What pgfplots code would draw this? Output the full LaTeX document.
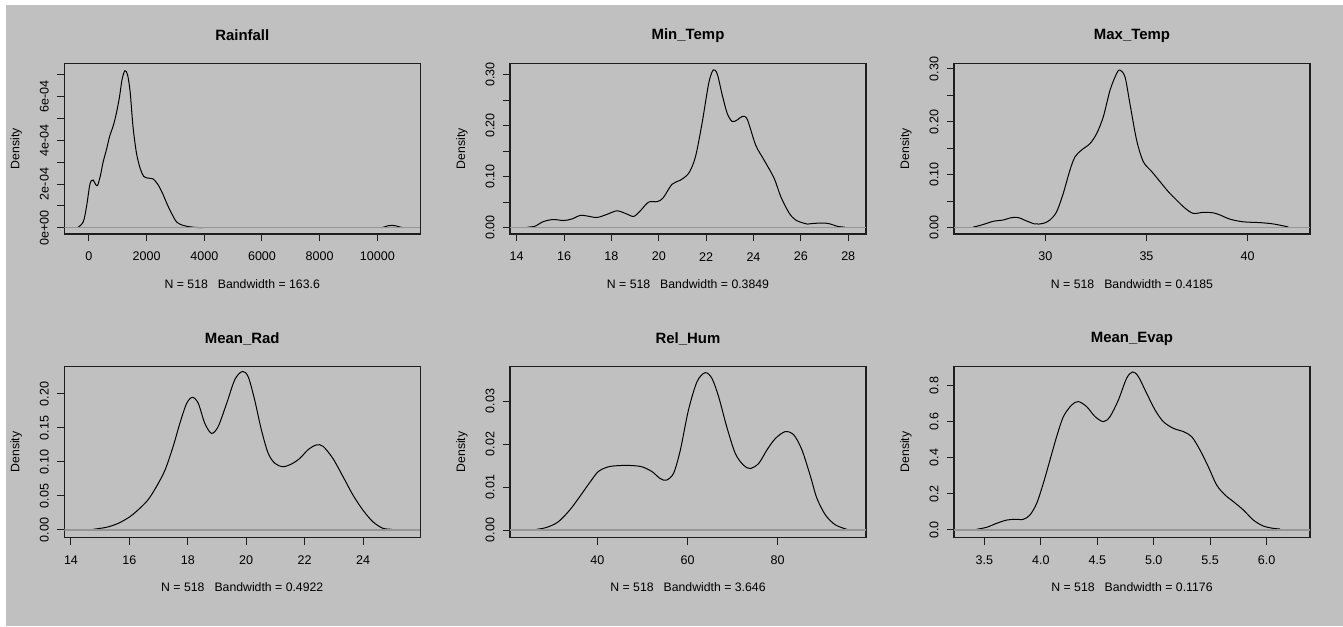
\documentclass[border=0pt]{standalone}
\usepackage{fontspec}
\setmainfont{Liberation Sans}
\usepackage{pgfplots}
\pgfplotsset{compat=1.18}
\definecolor{bg}{RGB}{192,192,192}
\definecolor{zl}{RGB}{150,150,150}
\definecolor{fr}{RGB}{30,30,30}
\pgfplotsset{
  rplot/.style={
    width=267pt, height=128pt, scale only axis,
    anchor=south west,
    axis line style={fr, line width=0.8pt},
    tick pos=left, tick align=outside, major tick length=5.5pt,
    every tick/.style={fr, line width=0.75pt},
    /pgf/number format/assume math mode=true,
    tick label style={font=\fontsize{9.4}{10}\selectfont, text=black},
    xticklabel style={anchor=center},
    xticklabel shift=11.5pt,
    yticklabel style={rotate=90, anchor=center},
    yticklabel shift=9.5pt,
    every axis title/.style={at={(axis description cs:0.5,1.163)}, anchor=center, font=\bfseries\fontsize{11.2}{12}\selectfont},
    every axis x label/.style={at={(axis description cs:0.5,-0.294)}, anchor=center, font=\fontsize{9.2}{10}\selectfont},
    every axis y label/.style={at={(axis description cs:-0.135,0.5)}, anchor=center, rotate=90, font=\fontsize{9.2}{10}\selectfont},
    ylabel={Density},
    scaled ticks=false,
  },
  dens/.style={black, line width=0.75pt, smooth, tension=0.5, no markers},
  zero/.style={zl, line width=0.9pt, no markers},
}
\begin{document}
\begin{tikzpicture}
\fill[white] (0,0) rectangle (1007.25pt,469.5pt);
\fill[bg] (4.5pt,0) rectangle (1007.25pt,465.75pt);

% Rainfall
\begin{axis}[rplot, at={(48.2pt,294pt)},
  title={Rainfall},
  xlabel={N = 518\hspace{7.5pt}Bandwidth = 163.6},
  xmin=-856, xmax=11489, ymin=-2.9e-5, ymax=7.53e-4,
  xtick={0,2000,4000,6000,8000,10000},
  xticklabels={0,2000,4000,6000,8000,10000},
  ytick={0,1e-4,2e-4,3e-4,4e-4,5e-4,6e-4,7e-4},
  yticklabels={0e+00,,2e-04,,4e-04,,6e-04,}]
\addplot[dens] coordinates {(-393,0) (-196,2.7e-5) (-80,1.0e-4) (20,1.9e-4) (80,2.15e-4) (150,2.18e-4) (230,1.98e-4) (300,1.94e-4) (400,2.4e-4) (490,3.0e-4) (612,3.6e-4) (720,4.2e-4) (850,4.7e-4) (960,5.3e-4) (1060,6.0e-4) (1150,6.8e-4) (1247,7.19e-4) (1340,7.0e-4) (1430,6.2e-4) (1530,4.6e-4) (1650,3.4e-4) (1780,2.7e-4) (1900,2.35e-4) (2050,2.27e-4) (2229,2.23e-4) (2400,1.96e-4) (2560,1.55e-4) (2720,1.05e-4) (2864,6.6e-5) (3040,2.6e-5) (3250,1.1e-5) (3500,4e-6) (3730,1e-6) (3950,0)};
\addplot[dens] coordinates {(10150,0) (10260,4e-6) (10380,9e-6) (10520,1.05e-5) (10660,8e-6) (10780,3e-6) (10900,0)};
\addplot[zero] coordinates {(-856,0) (11489,0)};
\end{axis}

% Min_Temp
\begin{axis}[rplot, at={(382.5pt,294pt)},
  title={Min\_Temp},
  xlabel={N = 518\hspace{7.5pt}Bandwidth = 0.3849},
  xmin=13.72, xmax=28.75, ymin=-0.0124, ymax=0.322,
  xtick={14,16,18,20,22,24,26,28},
  xticklabels={14,16,18,20,22,24,26,28},
  ytick={0,0.05,0.10,0.15,0.20,0.25,0.30},
  yticklabels={0.00,,0.10,,0.20,,0.30}]
\addplot[dens] coordinates {(14.47,0.001) (14.78,0.003) (15.13,0.012) (15.55,0.016) (15.98,0.014) (16.33,0.017) (16.68,0.024) (16.96,0.023) (17.39,0.020) (17.81,0.026) (18.23,0.033) (18.59,0.028) (18.94,0.022) (19.22,0.033) (19.57,0.050) (19.93,0.051) (20.18,0.058) (20.56,0.085) (20.91,0.093) (21.27,0.107) (21.55,0.139) (21.83,0.205) (22.11,0.283) (22.30,0.309) (22.47,0.301) (22.68,0.260) (22.89,0.224) (23.10,0.208) (23.31,0.211) (23.53,0.218) (23.74,0.212) (24.09,0.162) (24.44,0.133) (24.87,0.097) (25.15,0.061) (25.50,0.029) (25.78,0.015) (26.14,0.0085) (26.28,0.007) (26.56,0.0085) (27.12,0.0085) (27.55,0.0026) (27.86,0.001)};
\addplot[zero] coordinates {(13.72,0) (28.75,0)};
\end{axis}

% Max_Temp
\begin{axis}[rplot, at={(715.5pt,294pt)},
  title={Max\_Temp},
  xlabel={N = 518\hspace{7.5pt}Bandwidth = 0.4185},
  xmin=25.49, xmax=43.08, ymin=-0.012, ymax=0.3107,
  xtick={30,35,40},
  xticklabels={30,35,40},
  ytick={0,0.05,0.10,0.15,0.20,0.25,0.30},
  yticklabels={0.00,,0.10,,0.20,,0.30}]
\addplot[dens] coordinates {(26.44,0.001) (26.85,0.005) (27.43,0.012) (27.92,0.0145) (28.34,0.019) (28.67,0.019) (29.08,0.0126) (29.49,0.007) (29.90,0.008) (30.23,0.0145) (30.56,0.030) (30.89,0.065) (31.22,0.109) (31.47,0.134) (31.80,0.147) (32.21,0.159) (32.54,0.178) (32.87,0.210) (33.20,0.260) (33.53,0.292) (33.69,0.298) (33.94,0.285) (34.18,0.235) (34.51,0.166) (34.84,0.125) (35.26,0.106) (35.67,0.087) (36.08,0.068) (36.49,0.052) (36.90,0.037) (37.31,0.027) (37.81,0.029) (38.30,0.028) (38.63,0.024) (39.13,0.016) (39.79,0.011) (40.61,0.0095) (41.27,0.007) (42.01,0.0013)};
\addplot[zero] coordinates {(25.49,0) (43.08,0)};
\end{axis}

% Mean_Rad
\begin{axis}[rplot, at={(48.2pt,66.5pt)},
  title={Mean\_Rad},
  xlabel={N = 518\hspace{7.5pt}Bandwidth = 0.4922},
  xmin=13.77, xmax=25.96, ymin=-0.0108, ymax=0.240,
  xtick={14,16,18,20,22,24},
  xticklabels={14,16,18,20,22,24},
  ytick={0,0.05,0.10,0.15,0.20},
  yticklabels={0.00,0.05,0.10,0.15,0.20}]
\addplot[dens] coordinates {(14.76,0.001) (15.22,0.004) (15.62,0.0098) (16.02,0.0196) (16.36,0.032) (16.65,0.045) (16.93,0.064) (17.22,0.088) (17.50,0.123) (17.73,0.157) (17.96,0.186) (18.16,0.195) (18.36,0.186) (18.58,0.157) (18.81,0.142) (19.04,0.152) (19.33,0.186) (19.61,0.221) (19.87,0.233) (20.07,0.225) (20.29,0.191) (20.52,0.147) (20.75,0.113) (20.98,0.098) (21.26,0.093) (21.55,0.097) (21.83,0.105) (22.12,0.118) (22.40,0.125) (22.63,0.123) (22.97,0.105) (23.32,0.078) (23.66,0.051) (24.00,0.029) (24.34,0.012) (24.68,0.0025) (25.00,0.001)};
\addplot[zero] coordinates {(13.77,0) (25.96,0)};
\end{axis}

% Rel_Hum
\begin{axis}[rplot, at={(382.5pt,66.5pt)},
  title={Rel\_Hum},
  xlabel={N = 518\hspace{7.5pt}Bandwidth = 3.646},
  xmin=20.6, xmax=99.6, ymin=-0.0017, ymax=0.038,
  xtick={40,60,80},
  xticklabels={40,60,80},
  ytick={0,0.01,0.02,0.03},
  yticklabels={0.00,0.01,0.02,0.03}]
\addplot[dens] coordinates {(26.5,0.00016) (28.7,0.0006) (31.3,0.0019) (33.9,0.0047) (36.1,0.0078) (38.4,0.0112) (40.2,0.0136) (42.4,0.0147) (45.0,0.0150) (47.6,0.0150) (49.9,0.0147) (52.1,0.0136) (53.9,0.0120) (55.3,0.0116) (56.9,0.0132) (58.4,0.0186) (60.2,0.0279) (62.1,0.0345) (63.9,0.0366) (65.4,0.0353) (66.9,0.0310) (68.7,0.0240) (70.6,0.0178) (72.4,0.0151) (73.9,0.0143) (75.8,0.0155) (77.6,0.0186) (79.5,0.0213) (81.7,0.0229) (83.6,0.0221) (85.4,0.0186) (87.3,0.0124) (88.7,0.0074) (90.6,0.0035) (92.8,0.0012) (95.4,0.00016)};
\addplot[zero] coordinates {(20.6,0) (99.6,0)};
\end{axis}

% Mean_Evap
\begin{axis}[rplot, at={(715.5pt,66.5pt)},
  title={Mean\_Evap},
  xlabel={N = 518\hspace{7.5pt}Bandwidth = 0.1176},
  xmin=3.231, xmax=6.384, ymin=-0.0406, ymax=0.903,
  xtick={3.5,4.0,4.5,5.0,5.5,6.0},
  xticklabels={3.5,4.0,4.5,5.0,5.5,6.0},
  ytick={0,0.2,0.4,0.6,0.8},
  yticklabels={0.0,0.2,0.4,0.6,0.8}]
\addplot[dens] coordinates {(3.432,0.004) (3.521,0.015) (3.609,0.037) (3.698,0.055) (3.772,0.059) (3.845,0.059) (3.904,0.083) (3.963,0.147) (4.022,0.258) (4.081,0.387) (4.140,0.516) (4.200,0.627) (4.273,0.691) (4.332,0.710) (4.406,0.682) (4.480,0.627) (4.554,0.599) (4.613,0.627) (4.687,0.719) (4.760,0.839) (4.813,0.874) (4.864,0.848) (4.937,0.756) (5.011,0.664) (5.085,0.599) (5.174,0.562) (5.262,0.544) (5.336,0.516) (5.410,0.442) (5.483,0.350) (5.557,0.249) (5.631,0.194) (5.705,0.157) (5.793,0.111) (5.882,0.055) (5.970,0.022) (6.059,0.009) (6.118,0.0055)};
\addplot[zero] coordinates {(3.231,0) (6.384,0)};
\end{axis}
\end{tikzpicture}
\end{document}
